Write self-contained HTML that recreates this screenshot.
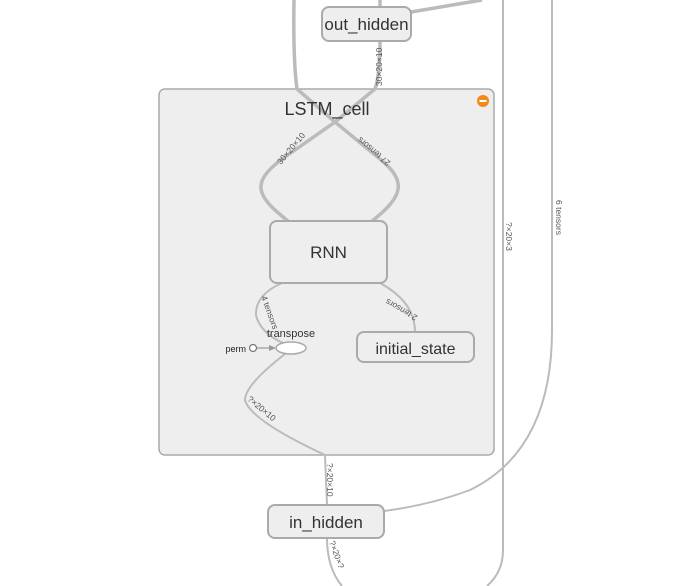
<!DOCTYPE html>
<html><head><style>
html,body{margin:0;padding:0;background:#fff;}
svg{display:block;font-family:"Liberation Sans",sans-serif;}
</style></head><body>
<svg width="690" height="586" viewBox="0 0 690 586" xmlns="http://www.w3.org/2000/svg">
<g fill="none" stroke="#bbb">
  <path d="M503,0 L503,550 Q503,572 487,586" stroke-width="2"/>
  <path d="M552,0 L552,330 Q552,450 470,490 Q430,505 384,511" stroke-width="2"/>
  <path d="M482,0 L411,12" stroke-width="3.5"/>
  <path d="M380,0 L380,7" stroke-width="3.5"/>
</g>
<rect x="159" y="89" width="335" height="366" rx="6" fill="#eee" stroke="#aaa" stroke-width="1.5"/>
<circle cx="483" cy="101" r="6" fill="#f28a1a"/>
<rect x="479.5" y="100" width="7" height="2" fill="#fff"/>
<g fill="none" stroke="#bbb">
  <path d="M294,0 Q293,60 297,89 L335,122 L375,155 C408,180 405,195 372,221" stroke-width="3.5"/>
  <path d="M380,41 Q380,75 375,89 L335,122 L285,157 C250,182 255,195 288,221" stroke-width="3.5"/>
  <path d="M282,283 Q255,295 256,315 Q260,333 285,344" stroke-width="2"/>
  <path d="M380,283 Q415,302 415,332" stroke-width="2"/>
  <path d="M285,354 Q245,385 245,400 Q250,420 325,455 L327,505" stroke-width="2"/>
  <path d="M327,538 Q327,568 342,586" stroke-width="2"/>
  <path d="M257,348 L273,348" stroke-width="1.2" stroke="#999"/>
</g>
<text x="327" y="115" font-size="18" fill="#333" text-anchor="middle">LSTM_cell</text>
<path d="M276,348 L269,345 L269,351 Z" fill="#999"/>
<g fill="#555" font-size="8.5">
  <text transform="translate(382,86) rotate(-90)">30×20×10</text>
  <text transform="translate(281,165) rotate(-50)">30×20×10</text>
  <text transform="translate(391,162) rotate(-140)">27 tensors</text>
  <text transform="translate(261,297) rotate(70)">4 tensors</text>
  <text transform="translate(418,316) rotate(-150)">2 tensors</text>
  <text transform="translate(247,400) rotate(40)">?×20×10</text>
  <text transform="translate(327,463) rotate(90)">?×20×10</text>
  <text transform="translate(329,542) rotate(70)">?×20×?</text>
  <text transform="translate(556,200) rotate(90)">6 tensors</text>
  <text transform="translate(506,222) rotate(90)">?×20×3</text>
</g>
<rect x="322" y="7" width="89" height="34" rx="7" fill="#eee" stroke="#aaa" stroke-width="2"/>
<text x="366.5" y="30" font-size="17" fill="#333" text-anchor="middle">out_hidden</text>
<rect x="270" y="221" width="117" height="62" rx="7" fill="#eee" stroke="#aaa" stroke-width="2"/>
<text x="328.5" y="258" font-size="17" fill="#333" text-anchor="middle">RNN</text>
<rect x="357" y="332" width="117" height="30" rx="7" fill="#eee" stroke="#aaa" stroke-width="2"/>
<text x="415.5" y="354" font-size="16" fill="#333" text-anchor="middle">initial_state</text>
<rect x="268" y="505" width="116" height="33" rx="7" fill="#eee" stroke="#aaa" stroke-width="2"/>
<text x="326" y="528" font-size="17" fill="#333" text-anchor="middle">in_hidden</text>
<ellipse cx="291" cy="348" rx="15" ry="6" fill="#fff" stroke="#aaa" stroke-width="1.5"/>
<text x="291" y="337" font-size="11" fill="#333" text-anchor="middle">transpose</text>
<circle cx="253" cy="348" r="3.5" fill="#fff" stroke="#777" stroke-width="1.2"/>
<text x="246" y="352" font-size="9" fill="#222" text-anchor="end">perm</text>
</svg>
</body></html>
